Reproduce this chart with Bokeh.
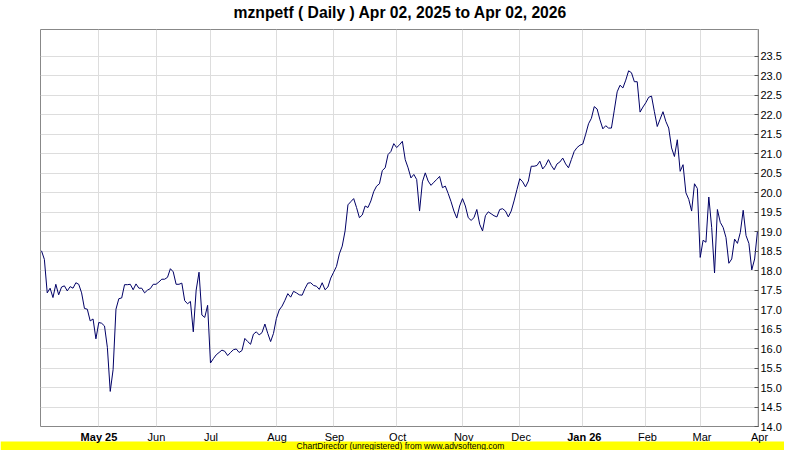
from bokeh.plotting import figure
from bokeh.models import FixedTicker, Range1d, BoxAnnotation
from bokeh.layouts import column
from bokeh.embed import file_html
from bokeh.resources import INLINE
from bokeh.core.properties import value

title_text = "mznpetf ( Daily ) Apr 02, 2025 to Apr 02, 2026"
footer_text = "ChartDirector (unregistered) from www.advsofteng.com"

closes = [
    18.51, 18.29, 17.43, 17.55, 17.31, 17.65, 17.38, 17.58, 17.61, 17.48,
    17.59, 17.55, 17.69, 17.65, 17.43, 17.03, 17.01, 16.71, 16.76, 16.25,
    16.67, 16.65, 16.58, 16.03, 14.90, 15.46, 17.01, 17.28, 17.30, 17.64,
    17.64, 17.65, 17.51, 17.66, 17.55, 17.55, 17.43, 17.50, 17.54, 17.65,
    17.65, 17.71, 17.78, 17.78, 17.83, 18.05, 17.97, 17.65, 17.65, 17.68,
    17.23, 17.15, 17.21, 16.43, 17.50, 17.96, 16.86, 16.80, 17.11, 15.63,
    15.74, 15.84, 15.90, 15.96, 15.93, 15.82, 15.90, 15.97, 15.99, 15.90,
    15.95, 16.26, 16.18, 16.11, 16.37, 16.43, 16.35, 16.41, 16.63, 16.39,
    16.18, 16.39, 16.77, 16.99, 17.09, 17.24, 17.41, 17.32, 17.47, 17.43,
    17.38, 17.37, 17.54, 17.68, 17.69, 17.62, 17.60, 17.52, 17.69, 17.51,
    17.58, 17.81, 17.96, 18.11, 18.43, 18.63, 19.02, 19.69, 19.77, 19.85,
    19.62, 19.36, 19.43, 19.66, 19.62, 19.79, 20.03, 20.17, 20.23, 20.57,
    20.64, 20.98, 21.06, 21.26, 21.16, 21.23, 21.32, 20.85, 20.64, 20.38,
    20.47, 20.34, 19.53, 20.28, 20.51, 20.30, 20.19, 20.27, 20.34, 20.42,
    20.13, 20.17, 19.98, 19.77, 19.53, 19.35, 19.66, 19.85, 19.66, 19.36,
    19.29, 19.36, 19.57, 19.19, 19.02, 19.41, 19.51, 19.46, 19.41, 19.38,
    19.57, 19.59, 19.53, 19.38, 19.53, 19.79, 20.08, 20.36, 20.28, 20.15,
    20.30, 20.68, 20.68, 20.70, 20.81, 20.61, 20.70, 20.85, 20.70, 20.59,
    20.74, 20.79, 20.89, 20.74, 20.64, 20.85, 21.06, 21.16, 21.22, 21.25,
    21.50, 21.77, 21.91, 22.21, 22.15, 21.87, 21.64, 21.72, 21.66, 21.66,
    22.12, 22.59, 22.76, 22.69, 22.89, 23.13, 23.08, 22.85, 22.85, 22.07,
    22.20, 22.31, 22.45, 22.48, 22.08, 21.70, 21.89, 22.08, 21.83, 21.66,
    21.15, 20.93, 21.36, 20.55, 20.72, 20.00, 19.83, 19.53, 20.23, 20.11,
    18.34, 18.78, 18.73, 19.89, 19.11, 17.94, 19.57, 19.24, 19.11, 18.85,
    18.19, 18.30, 18.81, 18.70, 18.98, 19.55, 18.90, 18.70, 18.02, 18.30,
    19.02,
]
day_index = list(range(len(closes)))

month_tick_pos = [20, 40, 59, 82, 102, 124, 147, 167, 189, 211, 230, 250]
month_tick_labels = ["May 25", "Jun", "Jul", "Aug", "Sep", "Oct", "Nov",
                     "Dec", "Jan 26", "Feb", "Mar", "Apr"]
year_labels = ["May 25", "Jan 26"]

y_ticks = [14.0, 14.5, 15.0, 15.5, 16.0, 16.5, 17.0, 17.5, 18.0, 18.5,
           19.0, 19.5, 20.0, 20.5, 21.0, 21.5, 22.0, 22.5, 23.0, 23.5]

FONT = "Liberation Sans"
W = 784
LEFT, RIGHT = 40, 24          # frame side borders (px)
X0, X1 = -0.35, 250.35        # frame x range
TOP_H = 29                    # title strip height
FRAME_H = 397
MAIN_BOTTOM = 5
BOT_H = 450 - TOP_H - FRAME_H - MAIN_BOTTOM   # labels + footer strip
FOOT_H = 9


def bare(fig):
    fig.frame_align = False
    fig.grid.visible = False
    fig.outline_line_color = None
    fig.background_fill_color = "white"
    fig.border_fill_color = "white"
    return fig


# ---------------- title strip ----------------
t = bare(figure(width=W, height=TOP_H, x_range=Range1d(0, W), y_range=Range1d(0, TOP_H),
                output_backend="svg", toolbar_location=None, min_border=0,
                x_axis_location=None, y_axis_location=None))
t.text(x=[(LEFT + W - RIGHT) / 2], y=[TOP_H - 12], text=[title_text],
       text_align="center", text_baseline="middle",
       text_font=value(FONT), text_font_style="bold", text_font_size="15.7px",
       text_color="black")

# ---------------- main chart ----------------
p = figure(width=W, height=FRAME_H + MAIN_BOTTOM,
           x_range=Range1d(X0, X1), y_range=Range1d(14.0, 24.19),
           output_backend="svg", toolbar_location=None,
           x_axis_location=None, y_axis_location="right",
           min_border_left=LEFT, min_border_right=RIGHT,
           min_border_top=0, min_border_bottom=MAIN_BOTTOM)
p.frame_align = False

p.line(day_index, closes, line_color="#000066", line_width=1)

p.background_fill_color = "white"
p.border_fill_color = "white"
p.outline_line_color = "#888888"

p.xgrid.ticker = FixedTicker(ticks=month_tick_pos)
p.ygrid.ticker = FixedTicker(ticks=y_ticks)
p.grid.grid_line_color = "#dddddd"
p.grid.grid_line_width = 1

ya = p.yaxis[0]
ya.ticker = FixedTicker(ticks=y_ticks)
ya.major_label_overrides = {tk: f"{tk:.1f}" for tk in y_ticks}
ya.major_tick_in = 4
ya.major_tick_out = 0
ya.minor_tick_in = 0
ya.minor_tick_out = 0
ya.axis_line_color = "#888888"
ya.major_tick_line_color = "#555555"
ya.major_label_text_font = FONT
ya.major_label_text_font_size = "11px"
ya.major_label_text_color = "black"
ya.major_label_standoff = 2

# ---------------- month labels + footer strip ----------------
k = (W - LEFT - RIGHT) / (X1 - X0)
b = bare(figure(width=W, height=BOT_H,
                x_range=Range1d(X0 - LEFT / k, X1 + RIGHT / k), y_range=Range1d(0, BOT_H),
                output_backend="svg", toolbar_location=None, min_border=0,
                x_axis_location=None, y_axis_location=None))

label_y = BOT_H - 5.5
norm_pos = [x for x, l in zip(month_tick_pos, month_tick_labels) if l not in year_labels]
norm_lab = [l for l in month_tick_labels if l not in year_labels]
bold_pos = [x for x, l in zip(month_tick_pos, month_tick_labels) if l in year_labels]
bold_lab = [l for l in month_tick_labels if l in year_labels]

b.text(x=norm_pos, y=[label_y] * len(norm_pos), text=norm_lab,
       text_align="center", text_baseline="middle",
       text_font=value(FONT), text_font_size="11px", text_color="black")
b.text(x=bold_pos, y=[label_y] * len(bold_pos), text=bold_lab,
       text_align="center", text_baseline="middle",
       text_font=value(FONT), text_font_style="bold",
       text_font_size="11px", text_color="black")

b.add_layout(BoxAnnotation(bottom=0, top=FOOT_H, fill_color="#ffff00",
                           fill_alpha=1.0, line_color=None, level="underlay"))
b.text(x=[(X0 + X1) / 2], y=[FOOT_H / 2], text=[footer_text], text_align="center",
       text_baseline="middle", text_font=value(FONT), text_font_size="8.5px",
       text_color="black")

layout = column(t, p, b, spacing=0)
open("out.html", "w").write(file_html(layout, INLINE))
